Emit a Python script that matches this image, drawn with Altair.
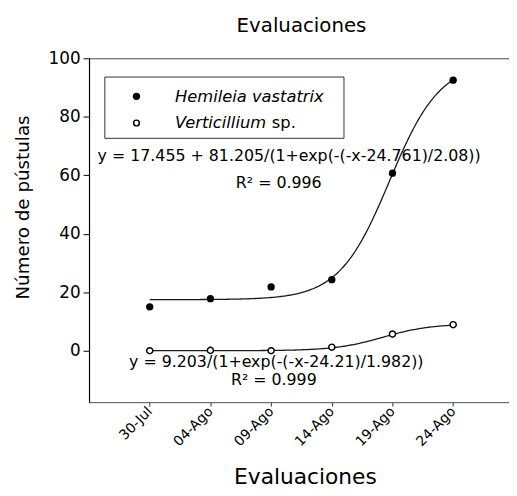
import altair as alt
import pandas as pd

FONT = "DejaVu Sans"

# ---- data ----
dates = ["30-Jul", "04-Ago", "09-Ago", "14-Ago", "19-Ago", "24-Ago"]
day = [5, 10, 15, 20, 25, 30]          # days counted from 25-Jul
hemileia = [15.0, 17.8, 21.8, 24.3, 60.7, 92.5]
verticillium = [0.0, 0.1, 0.0, 1.2, 5.7, 8.9]

# fitted logistic curves: base + amp / (1 + exp(-(x - mid) / slope))
hem_fit = [17.455, 81.205, 24.761, 2.08]
ver_fit = [0.0, 9.203, 24.21, 1.982]

x_domain = [0, 34.6]
y_domain = [-17.6, 100]
y_ticks = [0, 20, 40, 60, 80, 100]

title_text = "Evaluaciones"
x_title = "Evaluaciones"
y_title = "Número de pústulas"
legend_names = ["Hemileia vastatrix", "Verticillium", "sp."]
eq_texts = ["y = 17.455 + 81.205/(1+exp(-(-x-24.761)/2.08))",
            "y = 9.203/(1+exp(-(-x-24.21)/1.982))"]
r2_texts = ["R² = 0.996", "R² = 0.999"]

W, H = 425, 348

pts = pd.DataFrame({"day": day, "date": dates,
                    "hem": hemileia, "ver": verticillium})

label_expr = " : ".join(
    f"datum.value == {d} ? '{lab}'" for d, lab in zip(day, dates)) + " : ''"

xscale = alt.Scale(domain=x_domain, nice=False, zero=False)
yscale = alt.Scale(domain=y_domain, nice=False, zero=False)

# bottom axis (visible labels)
xaxis = alt.Axis(values=day, labelExpr=label_expr,
                 labelAngle=-45, labelAlign="right", labelBaseline="middle",
                 labelFont=FONT, labelFontSize=14, labelColor="black",
                 labelPadding=3, tickSize=4, tickColor="#333",
                 domainColor="#555", domainWidth=1, title=None, grid=False)
# second axis, flipped to the top by independent resolution: only its line shows
xaxis_top = alt.Axis(values=day, labelExpr=label_expr,
                     labelOpacity=0, tickOpacity=0,
                     labelFont=FONT, labelFontSize=14,
                     domainColor="#555", domainWidth=1, title=None, grid=False)
yaxis = alt.Axis(values=y_ticks, labelFont=FONT, labelFontSize=17,
                 labelColor="black", labelPadding=3, tickSize=6,
                 tickColor="black", domainColor="black", domainWidth=1.2,
                 title=None, grid=False)

Y = lambda f: alt.Y(f, scale=yscale, axis=yaxis)

seq = alt.sequence(day[0], day[-1] + 0.01, 0.1, as_="t")
curve = alt.Chart(seq).transform_calculate(
    hem=f"{hem_fit[0]} + {hem_fit[1]}/(1+exp(-(datum.t-{hem_fit[2]})/{hem_fit[3]}))",
    ver=f"{ver_fit[0]} + {ver_fit[1]}/(1+exp(-(datum.t-{ver_fit[2]})/{ver_fit[3]}))",
).transform_fold(["hem", "ver"], as_=["series", "val"]).mark_line(
    color="#1a1a1a", strokeWidth=1.3
).encode(x=alt.X("t:Q", scale=xscale, axis=xaxis), y=Y("val:Q"),
         detail="series:N")

hem_pts = alt.Chart(pts).mark_circle(color="black", size=55, opacity=1).encode(
    x=alt.X("day:Q", scale=xscale, axis=xaxis_top), y=Y("hem:Q"))
ver_pts = alt.Chart(pts).mark_point(shape="circle", filled=False, fill="white",
                                    fillOpacity=1, stroke="black",
                                    strokeWidth=1.5, size=38, opacity=1).encode(
    x=alt.X("day:Q", scale=xscale, axis=None), y=Y("ver:Q"))


def txt(s, x, y, size, **kw):
    return alt.Chart(pd.DataFrame({"s": [s]})).mark_text(
        font=FONT, fontSize=size, color="black", **kw).encode(
        text="s:N", x=alt.value(x), y=alt.value(y))


legend_box = alt.Chart(pd.DataFrame({"s": [legend_names[0]]})).mark_rect(
    fill="white", fillOpacity=0, stroke="#333", strokeWidth=1).encode(
    x=alt.value(16), x2=alt.value(258), y=alt.value(19), y2=alt.value(81))
leg_m1 = alt.Chart(pd.DataFrame({"s": [legend_names[0]]})).mark_circle(
    color="black", size=55, opacity=1).encode(x=alt.value(48), y=alt.value(38.5))
leg_m2 = alt.Chart(pd.DataFrame({"s": [legend_names[1]]})).mark_point(
    shape="circle", filled=False, stroke="black", strokeWidth=1.5, size=34,
    opacity=1).encode(x=alt.value(48), y=alt.value(65.5))

layers = [
    curve, hem_pts, ver_pts,
    legend_box, leg_m1, leg_m2,
    txt(legend_names[0], 87, 39, 16.5, align="left", baseline="middle", fontStyle="italic"),
    txt(legend_names[1], 87, 66, 16.5, align="left", baseline="middle", fontStyle="italic"),
    txt(legend_names[2], 185, 66, 16.5, align="left", baseline="middle"),
    txt(eq_texts[0], 202.5, 99, 16, align="center", baseline="middle"),
    txt(r2_texts[0], 192, 126, 16, align="center", baseline="middle"),
    txt(eq_texts[1], 189.5, 307, 16, align="center", baseline="middle"),
    txt(r2_texts[1], 187, 326, 16, align="center", baseline="middle"),
    txt(title_text, 215, -33, 20, align="center", baseline="middle"),
    txt(y_title, -67, 151, 18.5, align="center", baseline="middle", angle=270),
    txt(x_title, 219, 431, 22, align="center", baseline="alphabetic"),
]

chart = alt.layer(*layers).resolve_axis(x="independent").properties(
    width=W, height=H,
    padding={"left": 82, "top": 48, "right": 0, "bottom": 84},
    autosize=alt.AutoSizeParams(type="none"),
).configure_view(stroke=None).configure(background="white")

chart.save("out.html", embed_options={"renderer": "svg", "actions": False})
